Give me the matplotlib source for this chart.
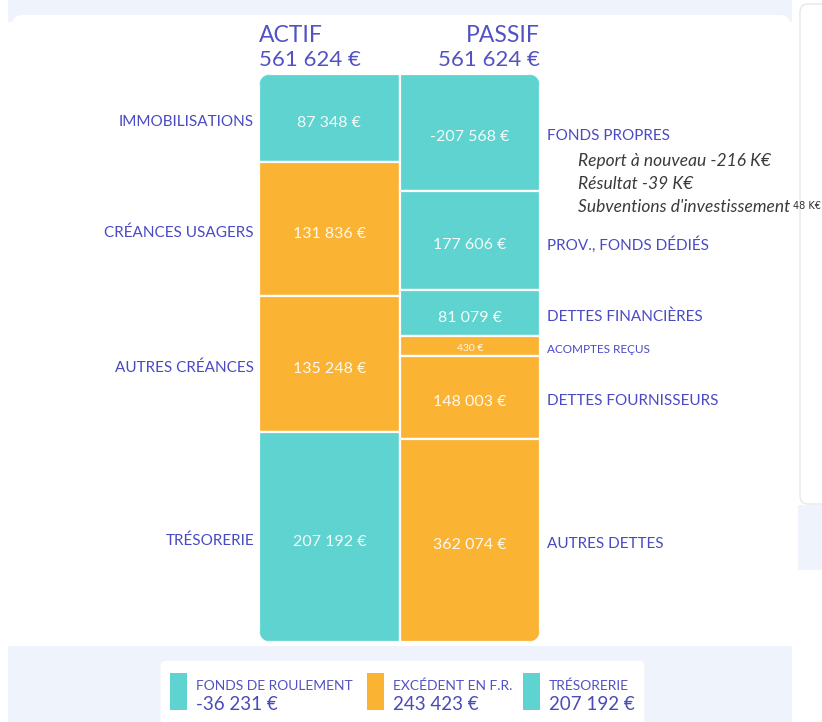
import matplotlib.pyplot as plt
import numpy as np
from matplotlib.patches import FancyBboxPatch, Rectangle
from matplotlib.transforms import Bbox

plt.rcParams["font.family"] = ["Lato", "DejaVu Sans"]

TEAL = "#5ed3cf"
ORANGE = "#fbb334"
INK = "#4a4ac4"
PALE = "#eef3fc"

# bilan data
actif_labels = ["IMMOBILISATIONS", "CRÉANCES USAGERS", "AUTRES CRÉANCES", "TRÉSORERIE"]
actif_values = [87348, 131836, 135248, 207192]
actif_kinds = ["teal", "orange", "orange", "teal"]

passif_labels = ["FONDS PROPRES", "PROV., FONDS DÉDIÉS", "DETTES FINANCIÈRES",
                 "ACOMPTES REÇUS", "DETTES FOURNISSEURS", "AUTRES DETTES"]
passif_values = [-207568, 177606, 81079, 430, 148003, 362074]
passif_kinds = ["teal", "teal", "teal", "orange", "orange", "orange"]

# the last line is cut off by the panel edge in the dashboard
fp_details = ["Report à nouveau -216 K€", "Résultat -39 K€", "Subventions d'investissement"]
fp_overflow = "48 K€"

legend_labels = ["FONDS DE ROULEMENT", "EXCÉDENT EN F.R.", "TRÉSORERIE"]
legend_values = [-36231, 243423, 207192]
legend_kinds = ["teal", "orange", "teal"]

MIN_SHOWN = 35000  # smallest block drawn on the passif side
COLORS = {"teal": TEAL, "orange": ORANGE}


def euro(v):
    return f"{v:,}".replace(",", " ") + " €"


def stack(values):
    shares = np.asarray(values, float) / np.sum(values)
    tops = 1 - np.concatenate([[0], np.cumsum(shares)[:-1]])
    return shares, tops - shares


W, H = 822, 722
fig = plt.figure(figsize=(W / 100, H / 100), dpi=100)
fig.patch.set_facecolor("white")

bg = fig.add_axes([0, 0, 1, 1])
bg.set_xlim(0, W)
bg.set_ylim(H, 0)
bg.axis("off")

# page background pieces
bg.add_patch(Rectangle((8, 0), 784, 22, color=PALE, lw=0))
bg.add_patch(FancyBboxPatch((12, 15), 778, 640, boxstyle="round,pad=0,rounding_size=10",
                            fc="white", ec="none"))
bg.add_patch(Rectangle((8, 646), 784, 80, color=PALE, lw=0))
bg.add_patch(FancyBboxPatch((160, 660), 485, 80, boxstyle="round,pad=0,rounding_size=6",
                            fc="white", ec="#f0f2f8", lw=0.8))
bg.add_patch(Rectangle((798, 505), 30, 65, color=PALE, lw=0))
bg.add_patch(FancyBboxPatch((800, 4), 40, 500, boxstyle="round,pad=0,rounding_size=8",
                            fc="white", ec="#e8e8e8", lw=1))

# headers
bg.text(259, 42, "ACTIF", ha="left", va="baseline", fontsize=16.5, color="#5252c4")
bg.text(259, 66, euro(sum(actif_values)), ha="left", va="baseline", fontsize=16, color="#5252c4")
bg.text(540, 42, "PASSIF", ha="right", va="baseline", fontsize=16.5, color="#5252c4")
bg.text(540, 66, euro(sum(passif_values)), ha="right", va="baseline", fontsize=16, color="#5252c4")

# bars
ax = fig.add_axes([259 / W, 80 / H, 281 / W, 568 / H])
ax.set_xlim(-0.5, 1.5)
ax.set_ylim(0, 1)
ax.axis("off")

clip = FancyBboxPatch((259, 74), 281, 568, boxstyle="round,pad=0,rounding_size=14",
                      transform=bg.transData, fc="none", ec="none")

a_h, a_b = stack(actif_values)
p_shown = np.maximum(np.abs(passif_values), MIN_SHOWN)
p_h, p_b = stack(p_shown)

for x, heights, bottoms, kinds in [(0, a_h, a_b, actif_kinds), (1, p_h, p_b, passif_kinds)]:
    bars = ax.bar(np.full(len(heights), x), heights, bottom=bottoms, width=1,
                  color=[COLORS[k] for k in kinds], edgecolor="white", linewidth=1.6)
    for rect in bars:
        rect.set_clip_path(clip)

for lab, v, h, b in zip(actif_labels, actif_values, a_h, a_b):
    yc = b + h / 2
    ax.annotate(euro(v), xy=(0, yc), xytext=(0, -5), textcoords="offset pixels",
                ha="center", va="center", fontsize=11.5, color="white", alpha=0.92)
    ax.annotate(lab, xy=(-0.5, yc), xytext=(-5, -4), textcoords="offset pixels",
                ha="right", va="center", fontsize=11, color=INK)

for lab, v, h, b in zip(passif_labels, passif_values, p_h, p_b):
    yc = b + h / 2
    small = abs(v) < MIN_SHOWN
    ax.annotate(euro(v), xy=(1, yc), xytext=(0, -3 if small else -5), textcoords="offset pixels",
                ha="center", va="center", fontsize=7.5 if small else 11.5,
                color="white", alpha=0.92)
    ax.annotate(lab, xy=(1.5, yc), xytext=(7, -4), textcoords="offset pixels",
                ha="left", va="center", fontsize=8.5 if small else 11, color=INK)

fp_y = p_b[0] + p_h[0] / 2
clip_box = Bbox.from_extents(0, 0, 790, H)
for i, line in enumerate(fp_details):
    t = ax.annotate(line, xy=(1.5, fp_y), xytext=(38, -29 - 23 * i), textcoords="offset pixels",
                    ha="left", va="center", fontsize=12.5, style="italic", color="#3a3a3a")
    t.set_clip_box(clip_box)
    t.set_clip_on(True)
bg.text(793, 206, fp_overflow, ha="left", va="center", fontsize=7, color="#333333",
        family="DejaVu Sans")

# bottom legend
for x0, lab, v, k in zip([170, 367, 523], legend_labels, legend_values, legend_kinds):
    bg.add_patch(Rectangle((x0, 673), 17, 37, color=COLORS[k], lw=0))
    bg.text(x0 + 26, 690, lab, ha="left", va="baseline", fontsize=10, color="#5252c4")
    bg.text(x0 + 26, 710, euro(v), ha="left", va="baseline", fontsize=13.5, color="#4a4ab8")

fig.savefig("out.png", dpi=100)
